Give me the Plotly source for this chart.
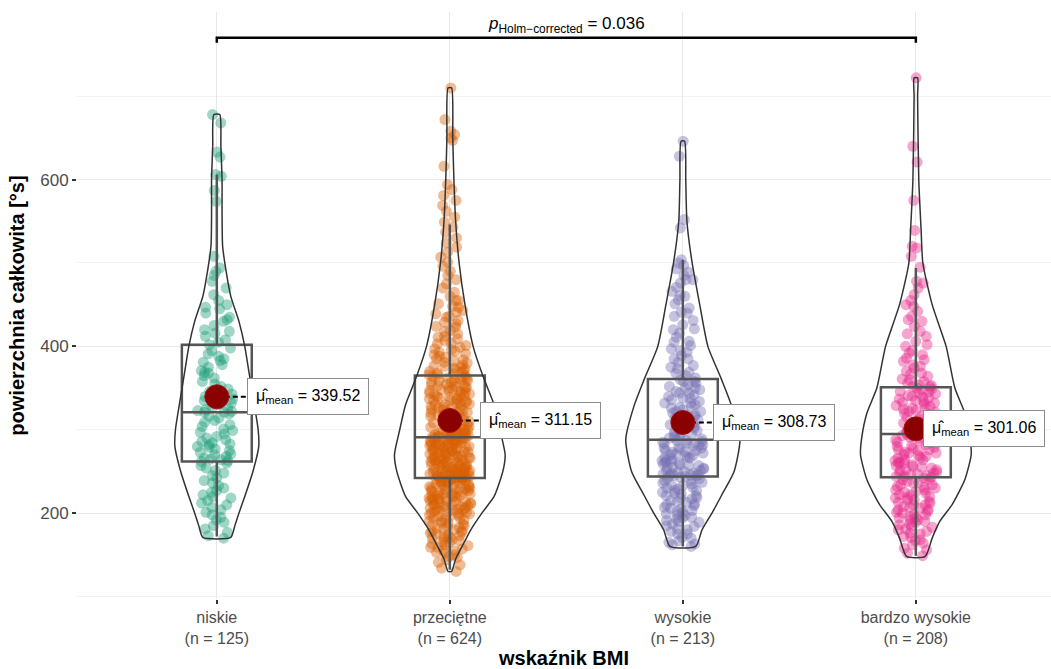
import plotly.graph_objects as go

# ---------------- data ----------------
categories = ["niskie", "przeciętne", "wysokie", "bardzo wysokie"]
counts = [125, 624, 213, 208]
colors = ["#1B9E77", "#D95F02", "#7570B3", "#E7298A"]

means = [339.52, 311.15, 308.73, 301.06]
box_q1 = [262, 242, 244, 243]
box_median = [321, 291, 288, 295]
box_q3 = [402, 365, 361, 351]
box_low = [172, 132, 160, 149]
box_high = [606, 546, 504, 494]

p_text = "0.036"

# violin profiles: value levels and relative density (1 = widest violin)
violin_levels = [
    [171, 185, 200, 220, 250, 280, 300, 340, 370, 400, 430, 460, 490, 520, 560, 600, 640, 678],
    [130, 145, 160, 180, 200, 220, 250, 270, 300, 330, 364, 400, 450, 500, 550, 600, 650, 710],
    [160, 180, 200, 222, 250, 288, 328, 361, 400, 450, 500, 550, 600, 646],
    [148, 170, 190, 210, 240, 270, 290, 320, 350, 400, 450, 500, 540, 600, 700, 722],
]
violin_density = [
    [0.24, 0.31, 0.38, 0.48, 0.62, 0.72, 0.71, 0.62, 0.55, 0.48, 0.38, 0.24, 0.16, 0.10, 0.09, 0.09, 0.07, 0.05],
    [0.03, 0.10, 0.21, 0.36, 0.55, 0.76, 0.91, 0.95, 0.86, 0.76, 0.57, 0.40, 0.26, 0.16, 0.10, 0.07, 0.05, 0.03],
    [0.22, 0.33, 0.50, 0.67, 0.88, 0.98, 0.84, 0.66, 0.43, 0.29, 0.16, 0.07, 0.05, 0.03],
    [0.16, 0.28, 0.41, 0.62, 0.84, 0.95, 0.93, 0.84, 0.67, 0.52, 0.28, 0.12, 0.09, 0.05, 0.03, 0.03],
]

niskie_vals = [678, 668, 633, 627, 606, 604, 587, 574, 508, 494, 490, 485, 478, 470, 462, 455, 450, 447, 445, 440, 435, 432, 430, 425, 420, 418, 416, 412, 408, 405, 402,
               398, 395, 391, 388, 385, 383, 381, 378, 375, 371, 369, 368, 365, 362, 358, 355, 352, 349, 346, 343, 340, 337, 335, 332, 330, 328, 326, 324, 323, 322, 321,
               321, 319, 316, 314, 311, 309, 306, 304, 301, 299, 297, 295, 292, 290, 288, 286, 284, 283, 282, 280, 279, 277, 275, 273, 271, 270, 268, 266, 265, 264, 263, 262,
               260, 257, 254, 251, 248, 245, 242, 239, 236, 233, 230, 227, 225, 222, 220, 218, 215, 212, 210, 207, 204, 201, 198, 195, 192, 189, 185, 181, 177, 173, 170]

przecietne_vals = [710, 672, 658, 654, 650, 647, 616, 594, 588, 581, 575, 569, 562, 555, 549, 543, 537, 530, 524, 519, 513, 507, 501, 496, 490, 485, 480, 475, 470, 465,
                   460, 455, 451, 447, 443, 439, 435, 431, 427, 423, 419, 415, 411, 407, 403, 399, 396, 393, 390, 387, 384, 381, 378, 376, 374, 372, 370, 368, 367, 366,
                   364, 363, 362, 360, 359, 357, 356, 354, 353, 351, 350, 348, 347, 345, 344, 342, 341, 339, 338, 336, 335, 333, 332, 330, 329, 327, 326, 324, 323, 321,
                   320, 318, 317, 315, 314, 312, 311, 310, 308, 307, 306, 305, 303, 302, 301, 300, 299, 298, 297, 296, 295, 295, 294, 293, 293, 292, 292, 291, 291, 290,
                   289, 288, 288, 287, 286, 285, 284, 283, 283, 282, 281, 280, 279, 278, 277, 276, 275, 274, 273, 272, 271, 270, 269, 268, 267, 266, 265, 264, 263, 262,
                   261, 260, 259, 258, 257, 256, 255, 254, 253, 252, 251, 250, 250, 249, 248, 248, 247, 246, 246, 245, 245, 244, 244, 243, 243, 243, 242, 242, 242, 241,
                   240, 239, 238, 236, 235, 233, 232, 230, 229, 227, 226, 224, 223, 221, 220, 218, 217, 215, 214, 212, 211, 209, 208, 206, 205, 203, 202, 200, 199, 197,
                   196, 194, 192, 191, 189, 187, 185, 183, 181, 179, 177, 175, 173, 171, 169, 167, 165, 163, 161, 159, 157, 155, 153, 150, 147, 144, 141, 138, 134, 130,
                   455, 448, 441, 436, 429, 424, 418, 412, 409, 404, 401, 397, 394, 391, 388, 385, 383, 380, 377, 375, 373, 371, 369, 366, 364, 362, 361, 359, 357, 355,
                   353, 352, 350, 349, 347, 346, 344, 343, 341, 340, 338, 337, 335, 334, 333, 331, 330, 328, 327, 325, 324, 322, 321, 319, 318, 316, 315, 313, 312, 311,
                   309, 308, 307, 305, 304, 303, 301, 300, 299, 298, 297, 296, 295, 294, 293, 292, 291, 290, 289, 288, 287, 286, 285, 284, 283, 282, 281, 280, 279, 278,
                   277, 276, 275, 274, 273, 272, 271, 270, 269, 268, 267, 266, 265, 264, 263, 262, 261, 260, 259, 258, 257, 256, 255, 254, 253, 252, 251, 250, 249, 248,
                   247, 246, 245, 244, 243, 242, 241, 240, 239, 238, 237, 236, 235, 234, 233, 232, 231, 230, 229, 228, 227, 226, 225, 224, 223, 222, 221, 220, 219, 218,
                   217, 216, 215, 214, 213, 212, 211, 210, 209, 208, 207, 206, 205, 204, 203, 202, 201, 200, 198, 196, 194, 192, 190, 188, 186, 184, 182, 180, 178, 176,
                   174, 172, 170, 168, 165, 162, 159, 156, 152, 148]

wysokie_vals = [646, 628, 552, 542, 504, 500, 497, 493, 489, 485, 480, 476, 471, 466, 461, 456, 451, 446, 441, 436, 431, 426, 421, 416, 411, 406, 401, 397, 393, 389, 385, 381, 377, 373, 369, 365, 362,
                360, 358, 356, 354, 352, 350, 348, 346, 344, 342, 340, 338, 336, 334, 332, 330, 328, 326, 324, 322, 320, 318, 316, 314, 312, 310, 308, 306, 304, 302, 300, 298, 296, 294, 292, 290, 289,
                287, 286, 285, 283, 282, 281, 279, 278, 277, 275, 274, 273, 271, 270, 269, 267, 266, 265, 263, 262, 261, 259, 258, 257, 255, 254, 253, 251, 250, 249, 248, 247, 246, 246, 245, 245, 244,
                243, 241, 239, 237, 235, 233, 231, 229, 227, 225, 223, 221, 219, 217, 215, 213, 211, 209, 207, 205, 203, 201, 199, 197, 195, 193, 191, 189, 187, 184, 181, 178, 175, 171, 167, 163, 160,
                480, 460, 440, 420, 405, 395, 385, 375, 368, 358, 350, 344, 338, 332, 327, 322, 317, 312, 307, 303, 299, 295, 291, 287, 284, 281, 278, 275, 272, 269,
                266, 263, 260, 257, 254, 251, 248, 245, 242, 239, 236, 233, 230, 227, 224, 221, 218, 214, 210, 206, 202, 198, 194, 190, 185, 180, 175, 170, 165, 162]

bardzo_vals = [722, 640, 621, 575, 539, 520, 518, 508, 495, 478, 476, 462, 455, 448, 442, 436, 430, 424, 418, 412, 406, 400, 395, 390, 386, 382, 378, 374, 370, 367, 364, 361, 358, 356, 354, 353, 352,
               350, 349, 347, 346, 344, 343, 341, 340, 338, 337, 335, 334, 332, 331, 329, 328, 326, 325, 323, 322, 320, 319, 317, 316, 314, 313, 311, 310, 308, 306, 304, 302, 300, 299, 298, 297, 296,
               294, 293, 291, 290, 288, 287, 285, 284, 282, 281, 279, 278, 276, 275, 273, 272, 270, 269, 267, 266, 264, 263, 261, 260, 258, 257, 255, 254, 252, 251, 249, 248, 247, 246, 245, 244, 243,
               242, 240, 238, 236, 234, 232, 230, 228, 226, 224, 222, 220, 218, 216, 214, 212, 210, 208, 206, 204, 202, 200, 198, 196, 194, 192, 190, 187, 184, 181, 178, 175, 171, 167, 162, 156, 149,
               470, 450, 432, 415, 402, 392, 384, 376, 368, 360, 352, 345, 339, 333, 327, 321, 315, 309, 303, 297, 292, 288, 284, 280, 276, 272, 268, 264, 260, 256,
               252, 248, 244, 240, 237, 234, 231, 228, 225, 222, 219, 216, 213, 210, 207, 204, 201, 198, 195, 192, 189, 186, 183, 180, 176, 172, 168, 164, 158, 152]

point_values = [niskie_vals, przecietne_vals, wysokie_vals, bardzo_vals]

# ---------------- style ----------------
FONT = "Liberation Sans, Arial, sans-serif"
VIOLIN_HALF = 0.25       # x-units for density 1
BOX_WIDTH = 0.30
JITTER_WIDTH = 0.18
LABEL_OFFSET = [0.13, 0.13, 0.13, 0.03]
BRACKET_Y = 770
BRACKET_TICK = 6
P_LABEL_Y = 786

xs = [1, 2, 3, 4]
fig = go.Figure()

# jittered points
for i, vals in enumerate(point_values):
    fig.add_trace(go.Box(
        x=[xs[i]] * len(vals), y=vals, boxpoints="all", jitter=1, pointpos=0,
        width=JITTER_WIDTH, fillcolor="rgba(0,0,0,0)", line=dict(width=0, color="rgba(0,0,0,0)"),
        whiskerwidth=0,
        marker=dict(color=colors[i], opacity=0.42, size=11, line=dict(width=0)),
        hoveron="points", showlegend=False))

# boxes
for i in range(4):
    fig.add_trace(go.Box(
        x=[xs[i]], q1=[box_q1[i]], median=[box_median[i]], q3=[box_q3[i]],
        lowerfence=[box_low[i]], upperfence=[box_high[i]], width=BOX_WIDTH,
        whiskerwidth=0,
        fillcolor="rgba(0,0,0,0)", line=dict(color="#555555", width=2.5),
        boxpoints=False, showlegend=False))

# violins
for i in range(4):
    lv = violin_levels[i]
    dn = violin_density[i]
    left_x = [xs[i] - d * VIOLIN_HALF for d in dn]
    right_x = [xs[i] + d * VIOLIN_HALF for d in dn]
    vx = left_x + right_x[::-1] + [left_x[0]]
    vy = lv + lv[::-1] + [lv[0]]
    fig.add_trace(go.Scatter(x=vx, y=vy, mode="lines",
                             line=dict(color="#333333", width=1.5, shape="spline", smoothing=0.6),
                             hoverinfo="skip", showlegend=False))

# mean connectors
for i in range(4):
    fig.add_trace(go.Scatter(x=[xs[i], xs[i] + LABEL_OFFSET[i]], y=[means[i], means[i]], mode="lines",
                             line=dict(color="black", width=2, dash="5px,3px"),
                             hoverinfo="skip", showlegend=False))

# means
fig.add_trace(go.Scatter(x=xs, y=means, mode="markers",
                         marker=dict(color="#8B0000", size=24, line=dict(color="#a31515", width=1)),
                         showlegend=False))

# bracket
fig.add_trace(go.Scatter(x=[1, 1, 4, 4],
                         y=[BRACKET_Y - BRACKET_TICK, BRACKET_Y, BRACKET_Y, BRACKET_Y - BRACKET_TICK],
                         mode="lines", line=dict(color="black", width=2.5),
                         hoverinfo="skip", showlegend=False))

annotations = []
for i in range(4):
    annotations.append(dict(
        x=xs[i] + LABEL_OFFSET[i], y=means[i], xref="x", yref="y", xanchor="left", yanchor="middle",
        text=f"μ̂<sub>mean</sub> = {means[i]:.2f}", showarrow=False,
        font=dict(family=FONT, size=16, color="black"),
        bgcolor="white", bordercolor="#8c8c8c", borderwidth=1, borderpad=8))
annotations.append(dict(
    x=2.5, y=P_LABEL_Y, xref="x", yref="y", showarrow=False,
    text=f"<i>p</i><sub>Holm−corrected</sub> = {p_text}",
    font=dict(family=FONT, size=17, color="black")))

ticktext = [f"{c}<br>(n = {n})" for c, n in zip(categories, counts)]

fig.update_layout(
    width=1051, height=669, paper_bgcolor="white", plot_bgcolor="white",
    margin=dict(l=77, r=0, t=12, b=70), boxmode="overlay", showlegend=False,
    font=dict(family=FONT),
    annotations=annotations,
    xaxis=dict(range=[0.4, 4.58], tickvals=xs, ticktext=ticktext, showgrid=True,
               gridcolor="#e8e8e8", gridwidth=1.4, zeroline=False, showline=False,
               ticks="outside", ticklen=4, tickwidth=2, tickcolor="#333333",
               tickfont=dict(family=FONT, size=16, color="#4d4d4d"),
               title=dict(text="wskaźnik BMI", font=dict(family=FONT, size=20, color="black", weight="bold"), standoff=8)),
    yaxis=dict(range=[97, 801], tickvals=[200, 400, 600], showgrid=True,
               gridcolor="#e8e8e8", gridwidth=1.4, zeroline=False, showline=False,
               ticks="outside", ticklen=4, tickwidth=2, tickcolor="#333333",
               tickfont=dict(family=FONT, size=17, color="#4d4d4d"),
               minor=dict(tickvals=[100, 300, 500, 700], showgrid=True, gridcolor="#f3f3f3", gridwidth=0.9, ticks=""),
               title=dict(text="powierzchnia całkowita [°s]", font=dict(family=FONT, size=20, color="black", weight="bold"), standoff=10)),
)

fig.write_html("out.html")
